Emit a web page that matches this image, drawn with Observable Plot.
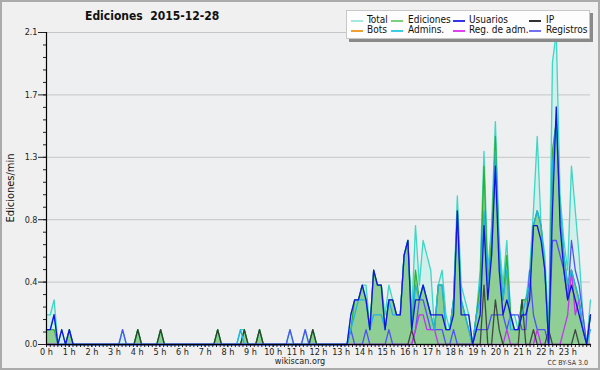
<!DOCTYPE html>
<html><head><meta charset="utf-8">
<script src="https://cdn.jsdelivr.net/npm/d3@7"></script>
<script src="https://cdn.jsdelivr.net/npm/@observablehq/plot@0.6"></script>
<style>
body{margin:0;background:#fff;}
#wrap{position:relative;width:600px;height:370px;background:#f0f0f0;overflow:hidden;font-family:"DejaVu Sans Condensed","DejaVu Sans",sans-serif;color:#222;}
#wrap svg{position:absolute;left:0;top:0;}
#border{position:absolute;left:0;top:0;width:600px;height:370px;box-sizing:border-box;border:2px solid #ababab;pointer-events:none;}
#title{position:absolute;left:85px;top:9px;font-size:12px;font-weight:bold;white-space:pre;color:#111;}
#ylab{position:absolute;left:10px;top:188px;font-size:11px;white-space:nowrap;transform:translate(-50%,-50%) rotate(-90deg);color:#111;}
#legend{position:absolute;left:346px;top:10px;width:244px;height:29px;box-sizing:border-box;background:#fdfdfd;border:1px solid #c8c8c8;box-shadow:3px 3px 0 #8a8a8a;}
.li{position:absolute;font-size:10px;line-height:10px;white-space:nowrap;color:#111;}
.sw{position:absolute;height:1.5px;width:12px;}
#foot{position:absolute;left:0;width:600px;top:356px;text-align:center;font-size:9px;color:#222;}
#cc{position:absolute;right:12px;top:359px;font-size:7px;color:#333;}
</style></head>
<body>
<div id="wrap">
<div id="chart"></div>
<div id="title"></div>
<div id="ylab"></div>
<div id="legend"></div>
<div id="foot"></div>
<div id="cc"></div>
<div id="border"></div>
</div>
<script>
const chartTitle = "Ediciones  2015-12-28";
const yTitle = "Ediciones/min";
const footText = "wikiscan.org";
const licenseText = "CC BY-SA 3.0";
const hourLabels = ["0 h","1 h","2 h","3 h","4 h","5 h","6 h","7 h","8 h","9 h","10 h","11 h","12 h","13 h","14 h","15 h","16 h","17 h","18 h","19 h","20 h","21 h","22 h","23 h"];
const yTickValues = [0, 0.42, 0.84, 1.26, 1.68, 2.1];
const yTickLabels = ["0.0","0.4","0.8","1.3","1.7","2.1"];

// edits per minute, one value per 10-minute slot (144 slots)
const total = [
0.2,0.2,0.3,0,0.1,0,0.1,0,0,0,0,0,
0,0,0,0,0,0,0,0,0.1,0,0,0,
0.1,0,0,0,0,0,0.1,0,0,0,0,0,
0,0,0,0,0,0,0,0,0,0.1,0,0,
0,0,0,0.1,0.1,0,0,0,0.1,0,0,0,
0,0,0,0,0.1,0,0,0,0.1,0,0.1,0,
0,0,0,0,0,0,0,0,0.2,0.3,0.3,0.4,
0.4,0.1,0.5,0.4,0.4,0.2,0.4,0.3,0.2,0.2,0.6,0.7,
0.2,0.8,0.4,0.7,0.6,0.5,0.1,0.4,0.5,0.2,0.1,0.3,
1.0,0.4,0.3,0.2,0,0.2,0.5,1.3,0.5,0.8,1.5,0.7,
0.4,0.7,0.2,0.2,0.1,0.3,0.3,0.5,0.9,1.4,0.8,0.6,
0.1,1.9,2.1,1.0,0.7,0.5,1.2,0.9,0.6,0.2,0,0.3];
const ediciones = [
0.1,0.1,0.1,0,0,0,0.1,0,0,0,0,0,
0,0,0,0,0,0,0,0,0,0,0,0,
0.1,0,0,0,0,0,0.1,0,0,0,0,0,
0,0,0,0,0,0,0,0,0,0.1,0,0,
0,0,0,0,0.1,0,0,0,0.1,0,0,0,
0,0,0,0,0,0,0,0,0,0,0.1,0,
0,0,0,0,0,0,0,0,0.1,0.3,0.3,0.4,
0.3,0.1,0.5,0.4,0.4,0.1,0.3,0.3,0.2,0.2,0.6,0.7,
0.1,0.5,0.3,0.4,0.3,0.2,0.1,0.4,0.4,0.1,0.1,0.3,
0.9,0.3,0.2,0.1,0,0.2,0.4,1.2,0.4,0.7,1.4,0.6,
0.3,0.6,0.2,0.1,0.1,0.3,0.3,0.4,0.8,0.9,0.8,0.5,
0,1.3,1.5,0.9,0.6,0.4,0.5,0.4,0.3,0.1,0,0.2];
const usuarios = [
0.1,0.1,0.2,0,0.1,0,0.1,0,0,0,0,0,
0,0,0,0,0,0,0,0,0,0,0,0,
0,0,0,0,0,0,0,0,0,0,0,0,
0,0,0,0,0,0,0,0,0,0,0,0,
0,0,0,0,0,0,0,0,0,0,0,0,
0,0,0,0,0,0,0,0,0,0,0,0,
0,0,0,0,0,0,0,0,0.2,0.3,0.3,0.4,
0.3,0.1,0.5,0.4,0.4,0.1,0.3,0.3,0.2,0.2,0.6,0.7,
0.1,0.3,0.3,0.4,0.3,0.2,0.2,0.2,0.2,0.1,0.1,0.2,
0.9,0.2,0.2,0.2,0,0.1,0.2,0.8,0.3,0.6,1.2,0.5,
0.2,0.3,0.2,0.1,0.1,0.2,0.2,0.3,0.8,0.8,0.7,0.5,
0,0.9,1.6,0.8,0.5,0.3,0.4,0.3,0.2,0.1,0,0.2];
const ip = [
0,0,0,0,0,0,0,0,0,0,0,0,
0,0,0,0,0,0,0,0,0,0,0,0,
0.1,0,0,0,0,0,0.1,0,0,0,0,0,
0,0,0,0,0,0,0,0,0,0.1,0,0,
0,0,0,0,0.1,0,0,0,0.1,0,0,0,
0,0,0,0,0,0,0,0,0,0,0.1,0,
0,0,0,0,0,0,0,0,0,0,0,0,
0,0,0,0,0,0,0,0,0,0,0,0,
0.1,0,0,0,0,0,0,0,0,0,0,0,
0,0,0,0,0,0,0,0.4,0,0,0.3,0.1,
0,0,0,0,0,0.3,0,0,0.1,0,0,0,
0.1,0,0,0,0,0,0,0.1,0,0,0,0];
const bots = [
0,0,0,0,0,0,0,0,0,0,0,0,
0,0,0,0,0,0,0,0,0,0,0,0,
0,0,0,0,0,0,0,0,0,0,0,0,
0,0,0,0,0,0,0,0,0,0,0,0,
0,0,0,0,0,0,0,0,0,0,0,0,
0,0,0,0,0,0,0,0,0,0,0,0,
0,0,0,0,0,0,0,0,0,0,0,0,
0,0,0,0,0,0,0,0,0,0,0,0,
0,0,0,0,0,0,0,0,0,0,0,0,
0,0,0,0,0,0,0,0,0,0,0,0,
0,0,0,0,0,0,0,0,0,0,0,0,
0,0,0,0,0,0,0,0,0,0,0,0];
const admins = [
0.1,0.1,0.2,0,0,0,0,0,0,0,0,0,
0,0,0,0,0,0,0,0,0,0,0,0,
0,0,0,0,0,0,0,0,0,0,0,0,
0,0,0,0,0,0,0,0,0,0,0,0,
0,0,0,0.1,0,0,0,0,0,0,0,0,
0,0,0,0,0,0,0,0,0,0,0,0,
0,0,0,0,0,0,0,0,0.1,0.2,0.3,0.3,
0.3,0.1,0.2,0.2,0.2,0.1,0.3,0.2,0.2,0.2,0.6,0.7,
0.1,0.4,0.3,0.4,0.3,0.2,0.1,0.4,0.4,0.1,0.1,0.3,
0.9,0.3,0.2,0.1,0,0.2,0.3,0.9,0.4,0.6,1.3,0.6,
0.3,0.5,0.1,0.1,0.1,0.2,0.3,0.4,0.8,0.9,0.8,0.5,
0,1.2,1.5,0.9,0.6,0.4,0.5,0.4,0.3,0.1,0,0.1];
const regAdm = [
0,0,0,0,0,0,0,0,0,0,0,0,
0,0,0,0,0,0,0,0,0,0,0,0,
0,0,0,0,0,0,0,0,0,0,0,0,
0,0,0,0,0,0,0,0,0,0,0,0,
0,0,0,0,0,0,0,0,0,0,0,0,
0,0,0,0,0,0,0,0,0,0,0,0,
0,0,0,0,0,0,0,0,0,0,0,0,
0,0,0,0,0,0,0,0,0,0,0,0,
0,0.1,0.2,0.2,0.1,0.1,0.1,0,0,0,0,0,
0,0,0,0,0,0,0,0,0,0,0,0,
0,0.1,0,0,0,0,0,0,0,0.1,0,0,
0,0,0,0,0.1,0.2,0.5,0.2,0.3,0.1,0,0];
const registros = [
0,0,0,0,0,0,0,0,0,0,0,0,
0,0,0,0,0,0,0,0,0.1,0,0,0,
0,0,0,0,0,0,0,0,0,0,0,0,
0,0,0,0,0,0,0,0,0,0,0,0,
0,0,0,0,0,0,0,0,0,0,0,0,
0,0,0,0,0.1,0,0,0,0.1,0,0,0,
0,0,0,0,0,0,0,0,0.1,0,0,0,
0.1,0,0,0,0,0,0.1,0,0,0,0,0,
0,0.1,0.3,0.3,0.2,0.1,0.1,0.1,0.1,0,0,0.1,
0,0,0,0,0,0.1,0.1,0.1,0.1,0.2,0.2,0.2,
0.2,0.1,0.2,0.2,0.2,0.1,0.1,0.5,0.2,0.1,0.1,0.1,
0,0.7,0.7,0.6,0.5,0.3,0.7,0.5,0.4,0.2,0,0.2];

const legendItems = [
  {name:"Total", swatch:"#a4e8e2", col:0, row:0},
  {name:"Ediciones", swatch:"#7ccf7c", col:1, row:0},
  {name:"Usuarios", swatch:"#3434e6", col:2, row:0},
  {name:"IP", swatch:"#303030", col:3, row:0},
  {name:"Bots", swatch:"#f0a030", col:0, row:1},
  {name:"Admins.", swatch:"#3ccce6", col:1, row:1},
  {name:"Reg. de adm.", swatch:"#e040f0", col:2, row:1},
  {name:"Registros", swatch:"#7070f2", col:3, row:1}
];

const slotHour = i => i * 24 / (total.length - 1);
const rows = arr => arr.map((v, i) => ({t: slotHour(i), v}));

const minorY = d3.range(0, 26).map(k => k * 0.084).filter(v => v <= 2.1001);
const minorX = d3.range(0, 145).map(k => k / 6);

const lineOpts = (color, w) => ({x:"t", y:"v", stroke: color, strokeWidth: w, strokeLinejoin:"round"});

const plot = Plot.plot({
  width: 600, height: 370,
  marginLeft: 46, marginRight: 10, marginTop: 32, marginBottom: 26,
  style: {background: "transparent", color: "#222", fontFamily: '"DejaVu Sans Condensed","DejaVu Sans",sans-serif'},
  x: {domain: [0, 24], label: null},
  y: {domain: [0, 2.1], label: null},
  marks: [
    Plot.frame({fill: "#edeff1", stroke: null}),
    Plot.gridY(yTickValues.slice(1), {stroke: "#c6c6c6", strokeOpacity: 1}),
    Plot.areaY(rows(total), {x:"t", y:"v", fill:"#cdeeea", fillOpacity: 0.85}),
    Plot.areaY(rows(ediciones), {x:"t", y:"v", fill:"#7cc47c", fillOpacity: 0.78}),
    Plot.lineY(rows(bots), lineOpts("#f0a030", 1.2)),
    Plot.lineY(rows(total), lineOpts("#3ed6c4", 1.3)),
    Plot.lineY(rows(ediciones), lineOpts("#2fb02f", 1.3)),
    Plot.lineY(rows(registros), lineOpts("#5252f0", 1.3)),
    Plot.lineY(rows(regAdm), lineOpts("#c436ee", 1.3)),
    Plot.lineY(rows(ip), {...lineOpts("#2a2a2a", 1.3), strokeOpacity: 0.8}),
    Plot.lineY(rows(admins), lineOpts("#22b2e4", 1.3)),
    Plot.lineY(rows(usuarios), lineOpts("#1414dc", 1.3)),
    Plot.axisY(minorY, {tickSize: 3, tickFormat: () => "", label: null}),
    Plot.axisY(yTickValues, {tickSize: 8, tickPadding: 1, fontSize: 9, label: null,
      tickFormat: d => yTickLabels[yTickValues.indexOf(d)]}),
    Plot.axisX(minorX, {tickSize: 3, tickFormat: () => "", label: null}),
    Plot.axisX(d3.range(0, 24), {tickSize: 3, tickPadding: 1, fontSize: 9, label: null,
      tickFormat: d => hourLabels[d]}),
    Plot.ruleX([0], {stroke: "#000", strokeWidth: 1.2}),
    Plot.ruleY([0], {stroke: "#000", strokeWidth: 1.2})
  ]
});
document.getElementById("chart").appendChild(plot);

document.getElementById("title").textContent = chartTitle;
document.getElementById("ylab").textContent = yTitle;
document.getElementById("foot").textContent = footText;
document.getElementById("cc").textContent = licenseText;

const colSw = [4, 44, 106, 182];
const colTx = [20, 61, 122, 199];
const rowY = [4, 14];
const lg = document.getElementById("legend");
legendItems.forEach(it => {
  const s = document.createElement("div");
  s.className = "sw";
  s.style.left = colSw[it.col] + "px";
  s.style.top = (rowY[it.row] + 5) + "px";
  s.style.background = it.swatch;
  lg.appendChild(s);
  const t = document.createElement("div");
  t.className = "li";
  t.style.left = colTx[it.col] + "px";
  t.style.top = rowY[it.row] + "px";
  t.textContent = it.name;
  lg.appendChild(t);
});
</script>
</body></html>
